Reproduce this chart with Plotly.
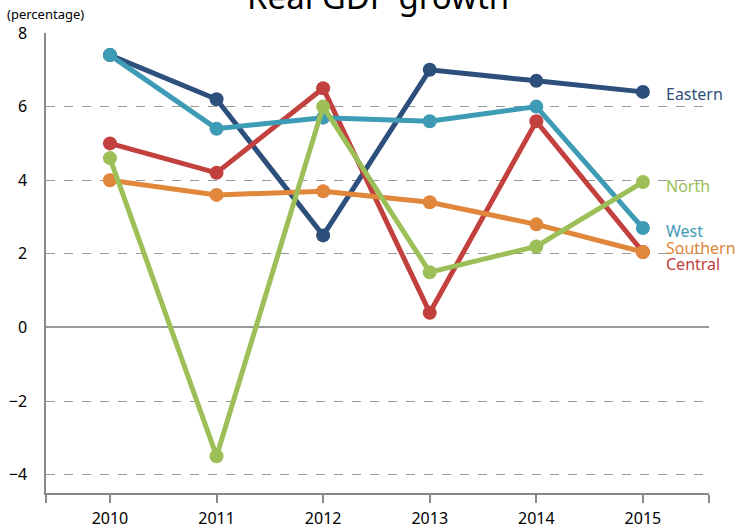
import plotly.graph_objects as go

years = [2010, 2011, 2012, 2013, 2014, 2015]
eastern = [7.4, 6.2, 2.5, 7.0, 6.7, 6.4]
west = [7.4, 5.4, 5.7, 5.6, 6.0, 2.7]
central = [5.0, 4.2, 6.5, 0.4, 5.6, 2.05]
southern = [4.0, 3.6, 3.7, 3.4, 2.8, 2.05]
north = [4.6, -3.5, 6.0, 1.5, 2.2, 3.95]
y_ticks = [-4, -2, 0, 2, 4, 6, 8]

series = [
    ("Eastern", eastern, "#2d4f7c"),
    ("Central", central, "#c2403d"),
    ("West", west, "#3e9bb5"),
    ("Southern", southern, "#e0873b"),
    ("North", north, "#9cbf58"),
]
# vertical nudges for end labels (to avoid overlap)
label_offset = {"Eastern": -0.05, "Central": -0.34, "West": -0.08, "Southern": 0.12, "North": -0.1}

FONT = "Noto Sans"
L, R, T, B = 46, 28, 33, 39
W, H = 737, 532
PW, PH = W - L - R, H - T - B

fig = go.Figure()
for name, vals, col in series:
    fig.add_trace(go.Scatter(
        x=years, y=vals, mode="lines+markers", name=name,
        line=dict(color=col, width=5),
        marker=dict(color=col, size=14),
        showlegend=False,
    ))
    fig.add_annotation(
        x=years[-1] + 0.2, y=vals[-1] + label_offset[name], xref="x", yref="y",
        text=name, showarrow=False, xanchor="left", yanchor="middle",
        font=dict(family=FONT, size=16, color=col),
    )

fig.add_annotation(
    x=0.5, y=1 + (T - 21) / PH, xref="paper", yref="paper", yanchor="bottom", xanchor="center",
    text="Real GDP growth", showarrow=False, font=dict(family=FONT, size=33, color="#000"),
)
fig.add_annotation(
    x=(5 - L) / PW, y=1 + (T - 14) / PH, xref="paper", yref="paper", text="(percentage)",
    showarrow=False, font=dict(family=FONT, size=13, color="#000"),
    xanchor="left", yanchor="middle",
)

x_lo, x_hi = 2009.4, 2015.62
fig.update_xaxes(
    range=[x_lo, x_hi],
    tickvals=[x_lo] + years + [x_hi],
    ticktext=[""] + [str(y) for y in years] + [""],
    ticks="outside", ticklen=8, tickcolor="#888", tickwidth=1.5,
    showline=True, linecolor="#888", linewidth=1.5,
    showgrid=False, zeroline=False, automargin=False,
    ticklabelstandoff=2,
    tickfont=dict(family=FONT, size=16, color="#000"),
)
fig.update_yaxes(
    range=[-4.5, 8],
    tickvals=y_ticks,
    showline=True, linecolor="#888", linewidth=1.5,
    showgrid=True, gridcolor="#999", griddash="dash", gridwidth=1,
    zeroline=True, zerolinecolor="#999", zerolinewidth=1.5,
    ticks="", ticklabelstandoff=14, automargin=False,
    tickfont=dict(family=FONT, size=16, color="#000"),
)
fig.update_layout(
    width=W, height=H,
    margin=dict(l=L, r=R, t=T, b=B),
    plot_bgcolor="white", paper_bgcolor="white",
)
fig.write_html("out.html", config={"displayModeBar": False},
               post_script="document.body.style.margin='0px';")
